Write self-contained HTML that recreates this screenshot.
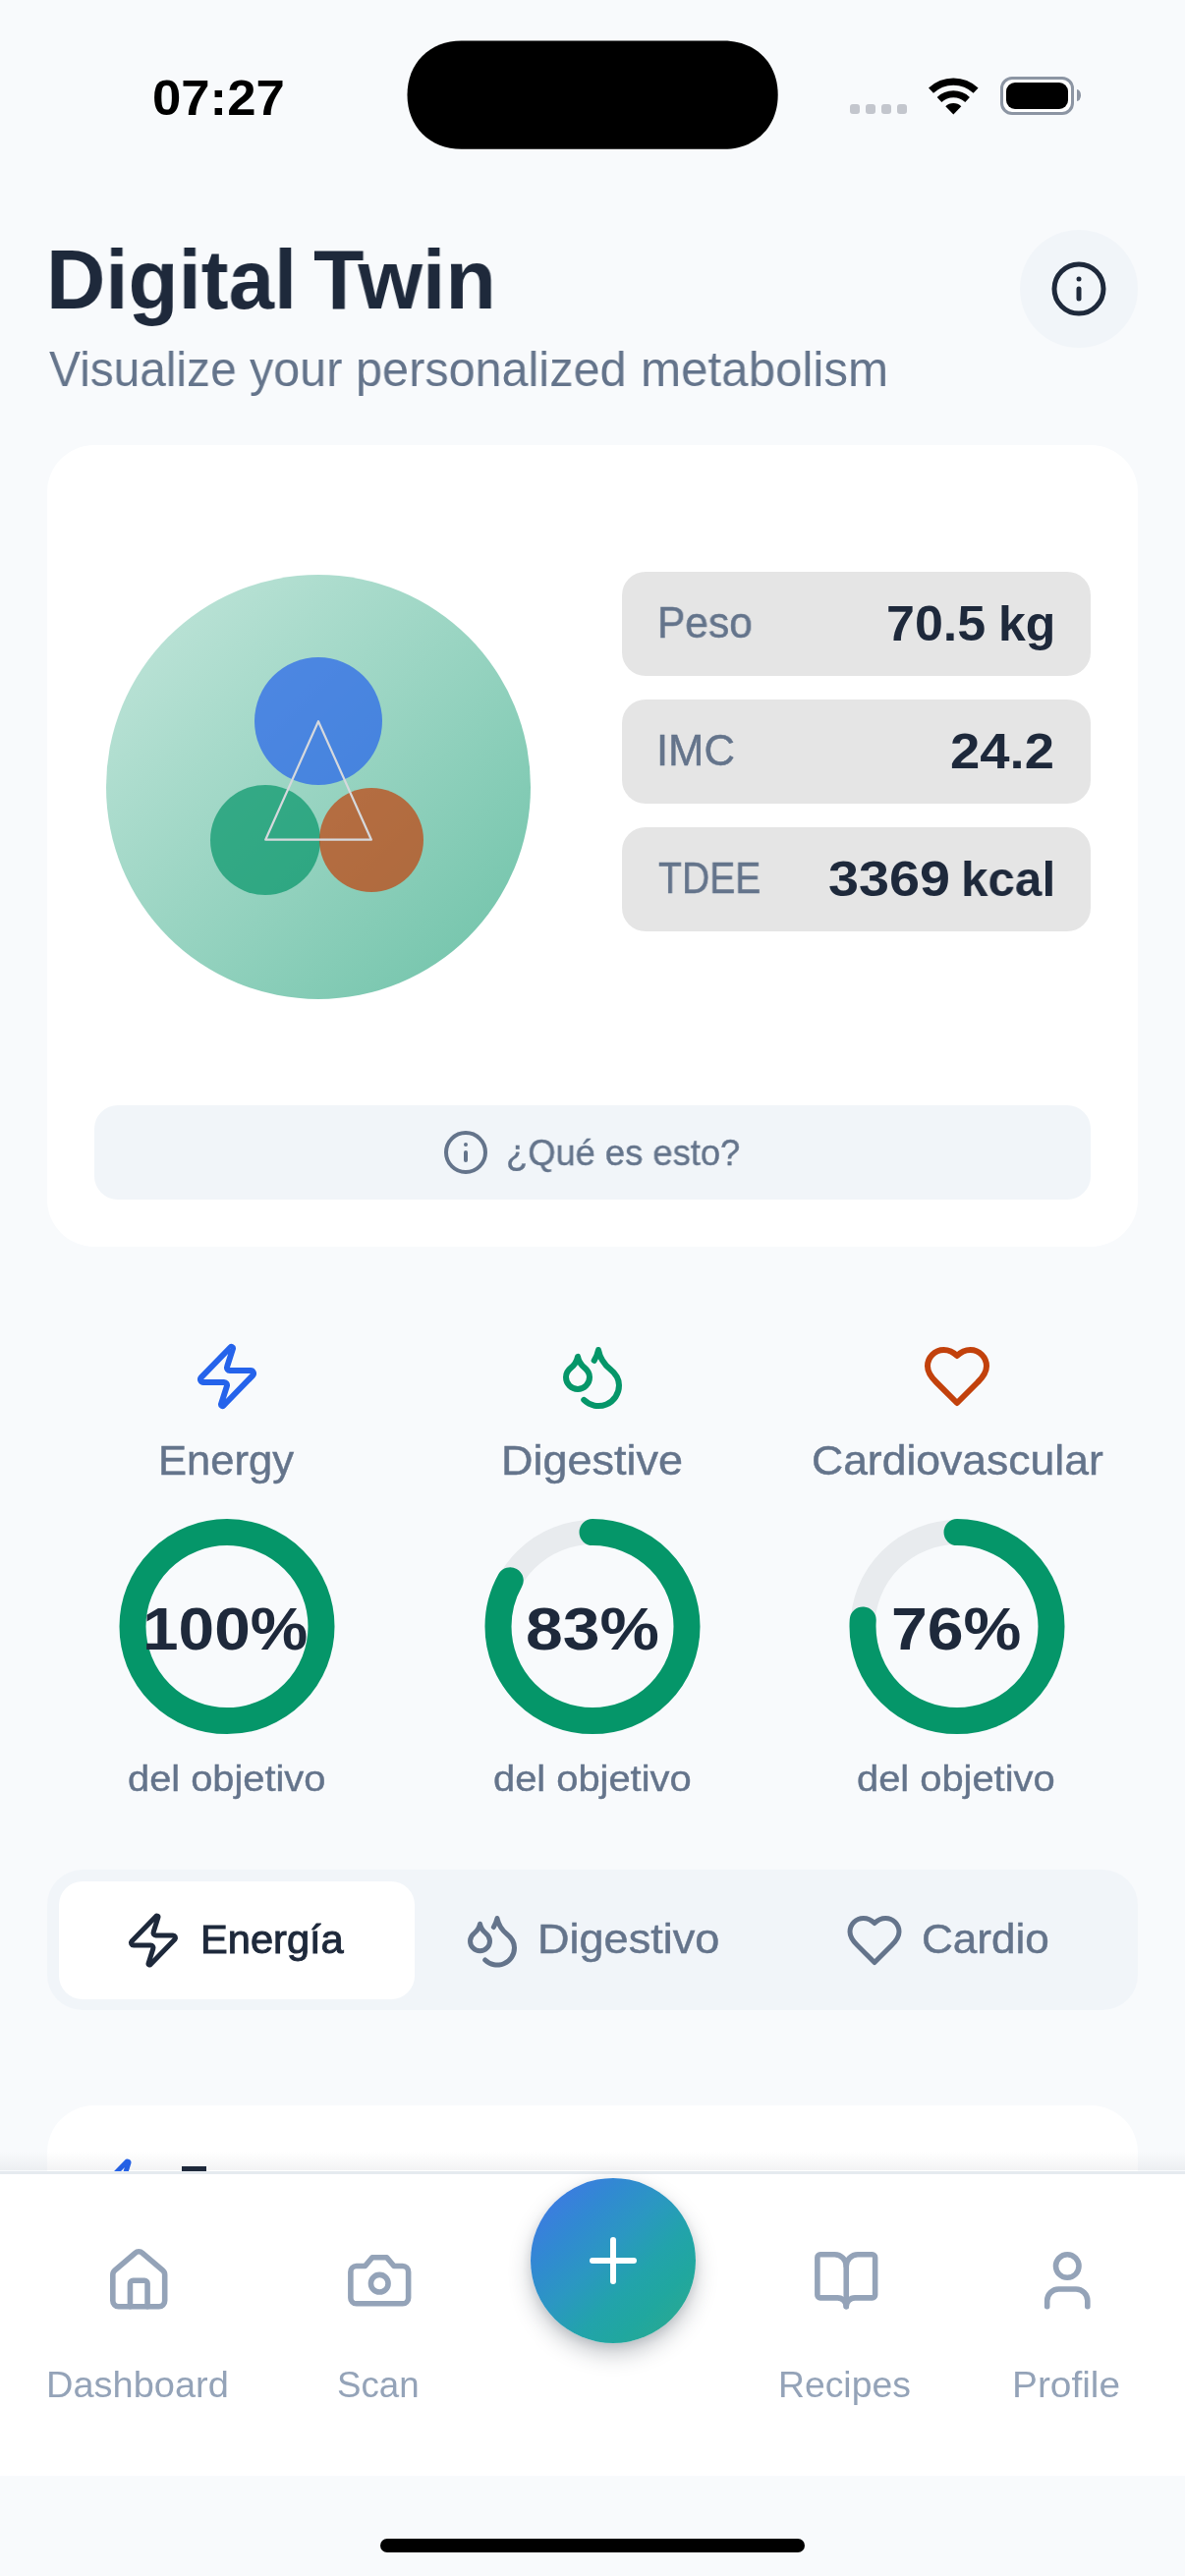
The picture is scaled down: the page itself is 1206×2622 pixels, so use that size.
<!DOCTYPE html>
<html lang="en">
<head>
<meta charset="utf-8">
<title>Digital Twin</title>
<style>
*{box-sizing:border-box;margin:0;padding:0}
html,body{width:1206px;height:2622px;overflow:hidden;background:#f8fafc}
body{font-family:"Liberation Sans",sans-serif;position:relative}
#app{position:absolute;left:0;top:0;width:1206px;height:2622px;overflow:hidden;background:#f8fafc}
.a{position:absolute}
.t{will-change:transform;position:absolute;white-space:nowrap;line-height:1;transform-origin:0 0;font-family:"Liberation Sans",sans-serif}
svg{position:absolute;overflow:visible}
.ic{fill:none;stroke-linecap:round;stroke-linejoin:round}
.pill{position:absolute;left:632.5px;width:477.5px;height:106px;border-radius:24px;background:#e5e5e5}
</style>
</head>
<body>
<div id="app">

<!-- ===== status bar ===== -->
<svg style="left:0;top:0" width="1206" height="200" viewBox="0 0 1206 200"><path d="M469.70 41.40 H736.50 C769.07 41.40 791.70 64.03 791.70 96.60 C791.70 129.17 769.07 151.80 736.50 151.80 H469.70 C437.13 151.80 414.50 129.17 414.50 96.60 C414.50 64.03 437.13 41.40 469.70 41.40 Z" fill="#000"/></svg>
<div class="a" style="left:865px;top:106px;width:10px;height:10px;border-radius:3px;background:#c3c6cd"></div>
<div class="a" style="left:881px;top:106px;width:10px;height:10px;border-radius:3px;background:#c3c6cd"></div>
<div class="a" style="left:897px;top:106px;width:10px;height:10px;border-radius:3px;background:#c3c6cd"></div>
<div class="a" style="left:913px;top:106px;width:10px;height:10px;border-radius:3px;background:#c3c6cd"></div>
<svg style="left:940px;top:74px" width="62" height="46" viewBox="940 74 62 46">
  <g fill="none" stroke="#000" stroke-linecap="butt">
    <path stroke-width="7.2" d="M947.5 92.2 A33.1 33.1 0 0 1 993.1 92.2"/>
    <path stroke-width="6.8" d="M956.0 101.4 A20.9 20.9 0 0 1 984.6 101.4"/>
  </g>
  <path fill="#000" d="M970.3 116.6 L962.3 108.2 A11.6 11.6 0 0 1 978.3 108.2 Z"/>
</svg>
<div class="a" style="left:1018px;top:78px;width:75px;height:38.5px;border-radius:12px;border:3px solid #8c95a3;background:#fff"></div>
<div class="a" style="left:1023.6px;top:83.8px;width:63px;height:27.2px;border-radius:9px;background:#000"></div>
<div class="a" style="left:1095.8px;top:91.3px;width:4.2px;height:12px;border-radius:0 4.2px 4.2px 0/0 6px 6px 0;background:#8c95a3"></div>

<!-- ===== header ===== -->
<div class="a" style="left:1038px;top:234px;width:120px;height:120px;border-radius:60px;background:#f1f5f9"></div>
<svg class="ic" style="left:1068px;top:264px" width="60" height="60" viewBox="0 0 24 24" stroke="#1e293b" stroke-width="2">
  <circle cx="12" cy="12" r="10"/><path d="M12 16v-4"/><path d="M12 8h.01"/>
</svg>

<!-- ===== main card ===== -->
<div class="a" style="left:48px;top:453px;width:1110px;height:815.7px;border-radius:48px;background:#fff"></div>
<div class="a" style="left:108px;top:585px;width:432px;height:432px;border-radius:50%;background:linear-gradient(135deg,rgba(5,150,105,.235) 0%,rgba(5,150,105,.585) 100%)"></div>
<div class="a" style="left:259px;top:668.5px;width:130px;height:130px;border-radius:50%;background:rgba(37,99,235,.7)"></div>
<div class="a" style="left:213.7px;top:798.7px;width:112.5px;height:112.5px;border-radius:50%;background:rgba(5,150,105,.7)"></div>
<div class="a" style="left:325px;top:801.7px;width:106px;height:106px;border-radius:50%;background:rgba(194,65,12,.7)"></div>
<svg style="left:0;top:0" width="1206" height="1100" viewBox="0 0 1206 1100">
  <path d="M324 734.2 L377.9 854.7 L270.2 854.7 Z" fill="none" stroke="#d6d9dd" stroke-width="2.2" stroke-linejoin="round"/>
</svg>

<div class="pill" style="top:581.6px"></div>
<div class="pill" style="top:711.6px"></div>
<div class="pill" style="top:841.7px"></div>

<div class="a" style="left:96px;top:1124.8px;width:1014px;height:96px;border-radius:24px;background:#f1f5f9"></div>
<svg class="ic" style="left:450px;top:1148.5px" width="48" height="48" viewBox="0 0 24 24" stroke="#64748b" stroke-width="2">
  <circle cx="12" cy="12" r="10"/><path d="M12 16v-4"/><path d="M12 8h.01"/>
</svg>

<!-- ===== three metrics ===== -->
<svg class="ic" style="left:195px;top:1365px" width="72" height="72" viewBox="0 0 24 24" stroke="#2563eb" stroke-width="2">
  <path d="M4 14a1 1 0 0 1-.78-1.63l9.9-10.2a.5.5 0 0 1 .86.46l-1.92 6.02A1 1 0 0 0 13 10h7a1 1 0 0 1 .78 1.63l-9.9 10.2a.5.5 0 0 1-.86-.46l1.92-6.02A1 1 0 0 0 11 14z"/>
</svg>
<svg class="ic" style="left:567px;top:1365px" width="72" height="72" viewBox="0 0 24 24" stroke="#059669" stroke-width="2">
  <path d="M7 16.3c2.2 0 4-1.83 4-4.05 0-1.16-.57-2.26-1.71-3.19S7.29 6.75 7 5.3c-.29 1.45-1.14 2.84-2.29 3.76S3 11.1 3 12.25c0 2.22 1.8 4.05 4 4.05z"/>
  <path d="M12.56 6.6A10.97 10.97 0 0 0 14 3.02c.5 2.5 2 4.9 4 6.5s3 3.5 3 5.5a6.98 6.98 0 0 1-11.91 4.97"/>
</svg>
<svg class="ic" style="left:938px;top:1365px" width="72" height="72" viewBox="0 0 24 24" stroke="#c2410c" stroke-width="2">
  <path d="M19 14c1.49-1.46 3-3.21 3-5.5A5.5 5.5 0 0 0 16.5 3c-1.76 0-3 .5-4.5 2-1.5-1.5-2.74-2-4.5-2A5.5 5.5 0 0 0 2 8.5c0 2.3 1.5 4.05 3 5.5l7 7Z"/>
</svg>

<!-- rings: r=96 sw=27, circumference 603.19 -->
<svg style="left:0;top:1500px" width="1206" height="320" viewBox="0 1500 1206 320" fill="none">
  <circle cx="231" cy="1655.6" r="96" stroke="#059669" stroke-width="27"/>
  <circle cx="603" cy="1655.6" r="96" stroke="#e8ebee" stroke-width="25"/>
  <circle cx="603" cy="1655.6" r="96" stroke="#059669" stroke-width="27" stroke-linecap="round" stroke-dasharray="500.65 603.19" transform="rotate(-90 603 1655.6)"/>
  <circle cx="974" cy="1655.6" r="96" stroke="#e8ebee" stroke-width="25"/>
  <circle cx="974" cy="1655.6" r="96" stroke="#059669" stroke-width="27" stroke-linecap="round" stroke-dasharray="458.42 603.19" transform="rotate(-90 974 1655.6)"/>
</svg>

<!-- ===== segmented control ===== -->
<div class="a" style="left:48px;top:1903px;width:1110px;height:143px;border-radius:36px;background:#f1f5f9"></div>
<div class="a" style="left:60px;top:1914.8px;width:361.5px;height:120px;border-radius:24px;background:#fff"></div>
<svg class="ic" style="left:126px;top:1945px" width="60" height="60" viewBox="0 0 24 24" stroke="#1e293b" stroke-width="2">
  <path d="M4 14a1 1 0 0 1-.78-1.63l9.9-10.2a.5.5 0 0 1 .86.46l-1.92 6.02A1 1 0 0 0 13 10h7a1 1 0 0 1 .78 1.63l-9.9 10.2a.5.5 0 0 1-.86-.46l1.92-6.02A1 1 0 0 0 11 14z"/>
</svg>
<svg class="ic" style="left:471.3px;top:1945.3px" width="60" height="60" viewBox="0 0 24 24" stroke="#64748b" stroke-width="2">
  <path d="M7 16.3c2.2 0 4-1.83 4-4.05 0-1.16-.57-2.26-1.71-3.19S7.29 6.75 7 5.3c-.29 1.45-1.14 2.84-2.29 3.76S3 11.1 3 12.25c0 2.22 1.8 4.05 4 4.05z"/>
  <path d="M12.56 6.6A10.97 10.97 0 0 0 14 3.02c.5 2.5 2 4.9 4 6.5s3 3.5 3 5.5a6.98 6.98 0 0 1-11.91 4.97"/>
</svg>
<svg class="ic" style="left:860px;top:1945px" width="60" height="60" viewBox="0 0 24 24" stroke="#64748b" stroke-width="2">
  <path d="M19 14c1.49-1.46 3-3.21 3-5.5A5.5 5.5 0 0 0 16.5 3c-1.76 0-3 .5-4.5 2-1.5-1.5-2.74-2-4.5-2A5.5 5.5 0 0 0 2 8.5c0 2.3 1.5 4.05 3 5.5l7 7Z"/>
</svg>

<!-- ===== next card (clipped) ===== -->
<div class="a" style="left:48px;top:2143px;width:1110px;height:300px;border-radius:48px;background:#fff"></div>
<svg class="ic" style="left:96px;top:2194.6px" width="60" height="60" viewBox="0 0 24 24" stroke="#2563eb" stroke-width="2">
  <path d="M4 14a1 1 0 0 1-.78-1.63l9.9-10.2a.5.5 0 0 1 .86.46l-1.92 6.02A1 1 0 0 0 13 10h7a1 1 0 0 1 .78 1.63l-9.9 10.2a.5.5 0 0 1-.86-.46l1.92-6.02A1 1 0 0 0 11 14z"/>
</svg>
<div class="a" style="left:184.6px;top:2205px;width:25.3px;height:8px;background:#1e293b"></div>

<!-- ===== tab bar ===== -->
<div class="a" style="left:0;top:2189px;width:1206px;height:20px;background:linear-gradient(180deg,rgba(15,23,42,0) 0%,rgba(15,23,42,.018) 45%,rgba(15,23,42,.05) 100%)"></div>
<div class="a" style="left:0;top:2209.6px;width:1206px;height:310px;background:#fff;border-top:3px solid #e5eaef"></div>

<svg class="ic" style="left:105.55px;top:2285.6px" width="70.5" height="70.5" viewBox="0 0 24 24" stroke="#94a3b8" stroke-width="1.9">
  <path d="M15 21v-8a1 1 0 0 0-1-1h-4a1 1 0 0 0-1 1v8"/>
  <path d="M3 10a2 2 0 0 1 .709-1.528l7-5.999a2 2 0 0 1 2.582 0l7 5.999A2 2 0 0 1 21 10v9a2 2 0 0 1-2 2H5a2 2 0 0 1-2-2z"/>
</svg>
<svg class="ic" style="left:350.55px;top:2285.6px" width="70.5" height="70.5" viewBox="0 0 24 24" stroke="#94a3b8" stroke-width="1.9">
  <path d="M14.5 4h-5L7 7H4a2 2 0 0 0-2 2v9a2 2 0 0 0 2 2h16a2 2 0 0 0 2-2V9a2 2 0 0 0-2-2h-3l-2.5-3z"/>
  <circle cx="12" cy="13" r="3"/>
</svg>
<svg class="ic" style="left:825.6px;top:2285.6px" width="70.5" height="70.5" viewBox="0 0 24 24" stroke="#94a3b8" stroke-width="1.9">
  <path d="M12 7v14"/>
  <path d="M3 18a1 1 0 0 1-1-1V4a1 1 0 0 1 1-1h5a4 4 0 0 1 4 4 4 4 0 0 1 4-4h5a1 1 0 0 1 1 1v13a1 1 0 0 1-1 1h-6a3 3 0 0 0-3 3 3 3 0 0 0-3-3z"/>
</svg>
<svg class="ic" style="left:1050.75px;top:2285.6px" width="70.5" height="70.5" viewBox="0 0 24 24" stroke="#94a3b8" stroke-width="1.9">
  <path d="M19 21v-2a4 4 0 0 0-4-4H9a4 4 0 0 0-4 4v2"/>
  <circle cx="12" cy="7" r="4"/>
</svg>

<!-- FAB -->
<div class="a" style="left:539.8px;top:2216.8px;width:168px;height:168px;border-radius:50%;background:linear-gradient(135deg,#3f78e4 8%,#3189d2 28%,#2b97c2 45%,#22a3ab 62%,#20a79f 76%,#2ca98f 94%);box-shadow:0 11px 22px rgba(30,41,59,.26),0 3px 8px rgba(30,41,59,.10)"></div>
<svg class="ic" style="left:588px;top:2264.8px" width="72" height="72" viewBox="0 0 24 24" stroke="#fff" stroke-width="2">
  <path d="M5 12h14"/><path d="M12 5v14"/>
</svg>

<!-- home indicator -->
<div class="a" style="left:387px;top:2583.5px;width:432px;height:14.5px;border-radius:8px;background:#000"></div>

<!-- ===== texts ===== -->
<div class="t" id="time" style="left:154.82px;top:75.00px;font-size:50.72px;font-weight:700;color:#000000;transform:scaleX(1.0389)">07:27</div>
<div class="t" id="title" style="left:46.94px;top:242.00px;font-size:85.51px;font-weight:700;color:#1e293b;transform:scaleX(0.9767)">Digital</div>
<div class="t" id="title2" style="left:319.31px;top:242.00px;font-size:85.51px;font-weight:700;color:#1e293b;transform:scaleX(0.9863)">Twin</div>
<div class="t" id="sub" style="left:49.70px;top:352.00px;font-size:49.57px;font-weight:400;color:#64748b;transform:scaleX(0.9656)">Visualize</div>
<div class="t" id="sub2" style="left:253.70px;top:352.00px;font-size:49.57px;font-weight:400;color:#64748b;transform:scaleX(0.9781)">your</div>
<div class="t" id="sub3" style="left:362.16px;top:352.00px;font-size:49.57px;font-weight:400;color:#64748b;transform:scaleX(0.9804)">personalized</div>
<div class="t" id="sub4" style="left:651.91px;top:352.00px;font-size:49.57px;font-weight:400;color:#64748b;transform:scaleX(0.9951)">metabolism</div>
<div class="t" id="peso" style="left:668.88px;top:612.00px;font-size:43.65px;font-weight:400;color:#64748b;-webkit-text-stroke:0.48px #64748b;transform:scaleX(0.9726)">Peso</div>
<div class="t" id="pesov" style="left:901.92px;top:610.00px;font-size:50.00px;font-weight:700;color:#1e293b;transform:scaleX(1.0404)">70.5</div>
<div class="t" id="pesov2" style="left:1015.52px;top:610.00px;font-size:50.00px;font-weight:700;color:#1e293b;transform:scaleX(0.9923)">kg</div>
<div class="t" id="imc" style="left:667.81px;top:742.00px;font-size:43.65px;font-weight:400;color:#64748b;-webkit-text-stroke:0.48px #64748b;transform:scaleX(0.9973)">IMC</div>
<div class="t" id="imcv" style="left:966.62px;top:740.00px;font-size:50.00px;font-weight:700;color:#1e293b;transform:scaleX(1.0892)">24.2</div>
<div class="t" id="tdee" style="left:670.10px;top:872.00px;font-size:43.65px;font-weight:400;color:#64748b;-webkit-text-stroke:0.48px #64748b;transform:scaleX(0.8965)">TDEE</div>
<div class="t" id="tdeev" style="left:842.69px;top:870.00px;font-size:50.00px;font-weight:700;color:#1e293b;transform:scaleX(1.1148)">3369</div>
<div class="t" id="tdeev2" style="left:977.84px;top:870.00px;font-size:50.00px;font-weight:700;color:#1e293b;transform:scaleX(0.9879)">kcal</div>
<div class="t" id="que" style="left:514.62px;top:1156.00px;font-size:36.66px;font-weight:400;color:#64748b;-webkit-text-stroke:0.40px #64748b;transform:scaleX(0.9907)">¿Qué es esto?</div>
<div class="t" id="l1" style="left:161.18px;top:1466.00px;font-size:41.94px;font-weight:400;color:#64748b;-webkit-text-stroke:0.46px #64748b;transform:scaleX(1.0385)">Energy</div>
<div class="t" id="l2" style="left:509.89px;top:1466.00px;font-size:42.08px;font-weight:400;color:#64748b;-webkit-text-stroke:0.46px #64748b;transform:scaleX(1.0686)">Digestive</div>
<div class="t" id="l3" style="left:825.99px;top:1466.00px;font-size:42.08px;font-weight:400;color:#64748b;-webkit-text-stroke:0.46px #64748b;transform:scaleX(1.0572)">Cardiovascular</div>
<div class="t" id="p1" style="left:145.24px;top:1627.00px;font-size:61.74px;font-weight:700;color:#1e293b;transform:scaleX(1.0658)">100%</div>
<div class="t" id="p2" style="left:535.00px;top:1627.00px;font-size:61.74px;font-weight:700;color:#1e293b;transform:scaleX(1.1008)">83%</div>
<div class="t" id="p3" style="left:906.99px;top:1627.00px;font-size:61.74px;font-weight:700;color:#1e293b;transform:scaleX(1.0714)">76%</div>
<div class="t" id="d1" style="left:129.60px;top:1793.00px;font-size:36.09px;font-weight:400;color:#64748b;-webkit-text-stroke:0.40px #64748b;transform:scaleX(1.1033)">del objetivo</div>
<div class="t" id="d2" style="left:501.70px;top:1793.00px;font-size:36.09px;font-weight:400;color:#64748b;-webkit-text-stroke:0.40px #64748b;transform:scaleX(1.1044)">del objetivo</div>
<div class="t" id="d3" style="left:872.10px;top:1793.00px;font-size:36.09px;font-weight:400;color:#64748b;-webkit-text-stroke:0.40px #64748b;transform:scaleX(1.1044)">del objetivo</div>
<div class="t" id="s1" style="left:204.47px;top:1954.00px;font-size:41.18px;font-weight:400;color:#1e293b;-webkit-text-stroke:0.99px #1e293b;transform:scaleX(1.0106)">Energía</div>
<div class="t" id="s2" style="left:547.09px;top:1953.00px;font-size:42.08px;font-weight:400;color:#64748b;-webkit-text-stroke:0.46px #64748b;transform:scaleX(1.0710)">Digestivo</div>
<div class="t" id="s3" style="left:937.70px;top:1953.00px;font-size:42.08px;font-weight:400;color:#64748b;-webkit-text-stroke:0.46px #64748b;transform:scaleX(1.0479)">Cardio</div>
<div class="t" id="t1" style="left:47.08px;top:2410.00px;font-size:36.52px;font-weight:400;color:#94a3b8;transform:scaleX(1.0405)">Dashboard</div>
<div class="t" id="t2" style="left:342.69px;top:2410.00px;font-size:36.52px;font-weight:400;color:#94a3b8;transform:scaleX(1.0051)">Scan</div>
<div class="t" id="t4" style="left:791.63px;top:2410.00px;font-size:36.52px;font-weight:400;color:#94a3b8;transform:scaleX(1.0219)">Recipes</div>
<div class="t" id="t5" style="left:1029.71px;top:2410.00px;font-size:36.52px;font-weight:400;color:#94a3b8;transform:scaleX(1.0626)">Profile</div>

</div>
</body>
</html>
